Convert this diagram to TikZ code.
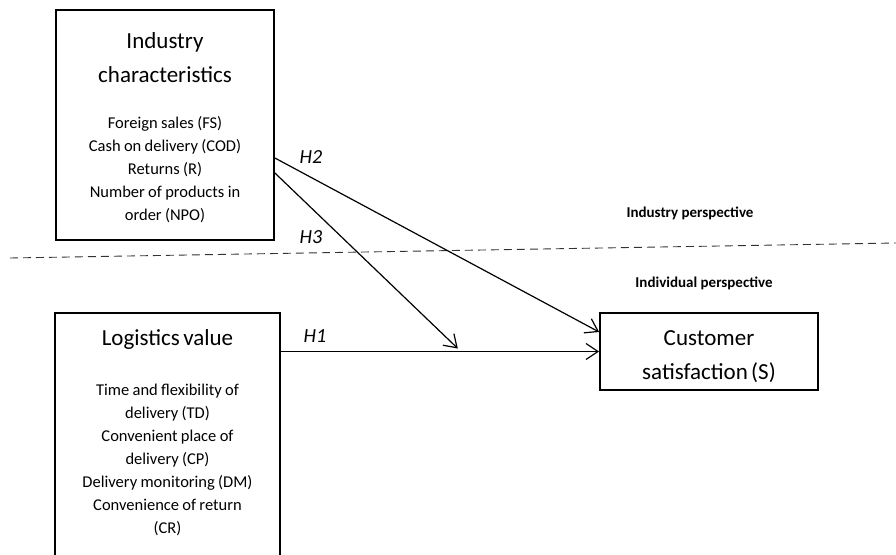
\documentclass[tikz,border=0pt]{standalone}
\usepackage{fontspec}
\setmainfont{Carlito}
\usetikzlibrary{arrows.meta}

\newcommand{\boxtitle}{\fontsize{23}{34}\selectfont}
\newcommand{\boxtext}{\fontsize{16.5}{23}\selectfont}

\begin{document}
\begin{tikzpicture}[x=1pt, y=-1pt,
    varbox/.style={draw=black, line width=1.8pt, fill=white, inner sep=0pt},
    boxlabel/.style={align=center, inner sep=0pt, text width=210pt},
    hyp/.style={-{Straight Barb[length=12pt, width=16pt, line width=1.2pt]}, line width=1.2pt},
    hlabel/.style={font=\fontsize{20}{24}\selectfont\itshape},
    persp/.style={font=\fontsize{15}{18}\selectfont\bfseries}]
    \useasboundingbox (0,0) rectangle (896,554);
    \clip (0,0) rectangle (896,554);

    % the three boxes
    \node[varbox, minimum width=218pt, minimum height=230pt] (ind) at (165,125) {};
    \node[varbox, minimum width=225pt, minimum height=250pt] (lv) at (167.5,438) {};
    \node[varbox, minimum width=218pt, minimum height=77pt] (cs) at (709,351.5) {};

    \node[boxlabel] (indtext) at ([yshift=-3pt]ind.center)
        {{\boxtitle Industry\\characteristics\par}\vspace{23pt}
         {\boxtext Foreign sales (FS)\\Cash on delivery (COD)\\Returns (R)\\Number of products in\\order (NPO)\par}};
    \node[boxlabel, text width=215pt] (lvtext) at ([yshift=5pt]lv.center)
        {{\boxtitle Logistics value\par}\vspace{27pt}
         {\boxtext Time and flexibility of\\delivery (TD)\\Convenient place of\\delivery (CP)\\Delivery monitoring (DM)\\Convenience of return\\(CR)\par}};
    \node[boxlabel] (cstext) at ([yshift=-5pt]cs.center)
        {{\boxtitle Customer\\satisfaction (S)\par}};

    \node[persp] (indp) at (690,213) {Industry perspective};
    \node[persp] (divp) at (704,283) {Individual perspective};

    \coordinate (dl) at (10,258);
    \coordinate (dr) at (896,243);
    \draw[dash pattern=on 8pt off 5pt, line width=0.9pt, black!80] (dl) -- (dr);

    \draw[hyp] (lv.east |- cs.west) -- coordinate[pos=0.556] (mod) (cs.west);
    \draw[hyp] ([yshift=-33pt]ind.east) -- ([yshift=19.5pt]cs.west);
    \draw[hyp] ([yshift=-48pt]ind.east) -- ([yshift=3pt]mod);

    \node[hlabel] (h1) at (315,336) {H1};
    \node[hlabel] (h2) at (311,157) {H2};
    \node[hlabel] (h3) at (311,237) {H3};
\end{tikzpicture}
\end{document}
